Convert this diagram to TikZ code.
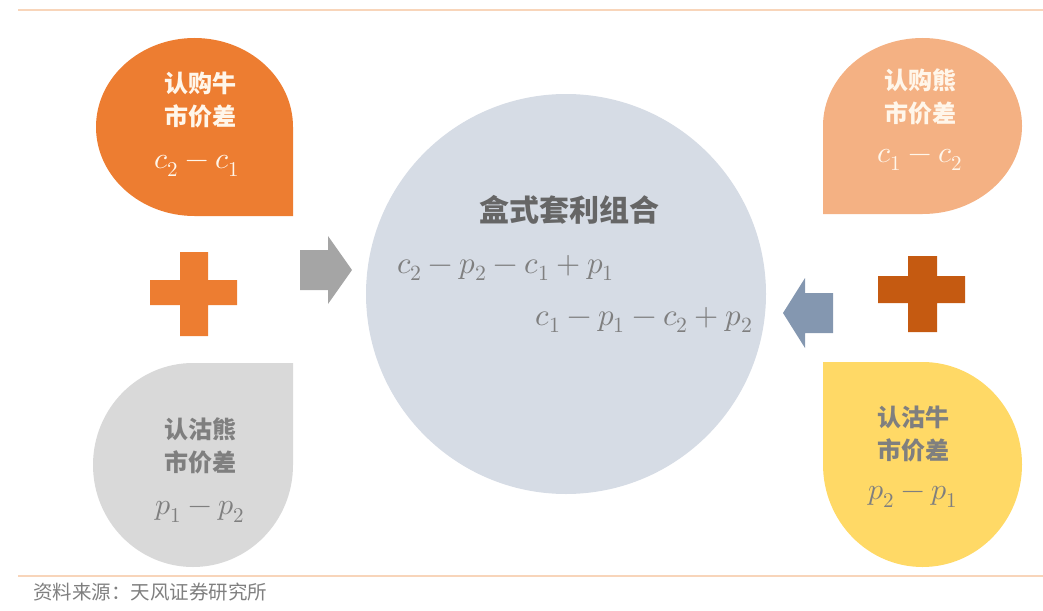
\documentclass[tikz,border=0pt]{standalone}
\usepackage{xcolor}
\usepackage{fontspec}
\usepackage{unicode-math}
\setmathfont{Latin Modern Math}
\usepackage{tikz}

\newfontfamily\cjk{Noto Sans CJK SC}

\definecolor{callbull}{HTML}{ED7D31}
\definecolor{callbear}{HTML}{F4B183}
\definecolor{putbear}{HTML}{D9D9D9}
\definecolor{putbull}{HTML}{FFD966}
\definecolor{boxfill}{HTML}{D6DCE5}
\definecolor{plusdark}{HTML}{C55A11}
\definecolor{arrowgray}{HTML}{A5A5A5}
\definecolor{arrowblue}{HTML}{8497B0}
\definecolor{rulecolor}{HTML}{F8D5BA}
\definecolor{textgray}{HTML}{7F7F7F}
\definecolor{titlegray}{HTML}{666666}
\definecolor{lighttext}{HTML}{FFF6EA}

% fill, cx, cy, rx, ry, angle where the sharp corner starts
\newcommand{\teardrop}[6]{%
  \fill[#1] (#2,#3) ++(#6:#4 and #5) -- ++(#6+90:#4 and #5) -- ++(#6+180:#4 and #5)
    arc[start angle=#6+90, delta angle=270, x radius=#4, y radius=#5] -- cycle;}

\begin{document}
\begin{tikzpicture}[x=1pt, y=-1pt,
    tagtext/.style={align=center, font=\cjk\bfseries\fontsize{24}{33}\selectfont},
    tagexpr/.style={font=\fontsize{30}{34}\selectfont},
    boxexpr/.style={font=\fontsize{31}{34}\selectfont, text=textgray}]
    \useasboundingbox (0,0) rectangle (1043,610);

    \draw[rulecolor, line width=2.5] (18,10) -- (1043,10);
    \draw[rulecolor, line width=2.5] (18,576) -- (1043,576);

    \teardrop{callbull}{194.5}{127}{98.5}{89}{0}
    \teardrop{callbear}{922.5}{126}{99.5}{88}{90}
    \teardrop{putbear}{193}{465}{100}{102}{270}
    \teardrop{putbull}{922.5}{464.5}{99.5}{102.5}{180}
    \fill[boxfill] (566,294) circle[radius=200];

    % plus signs
    \fill[callbull] (150,280) rectangle (237,305) (180,252) rectangle (208,336);
    \fill[plusdark] (878,276) rectangle (965,303) (908,256) rectangle (937,332);

    % block arrows
    \fill[arrowgray] (300,250) -- (328,250) -- (328,236) -- (352,270)
        -- (328,304) -- (328,290) -- (300,290) -- cycle;
    \fill[arrowblue] (833,293) -- (805,293) -- (805,278) -- (783,313)
        -- (805,348) -- (805,333) -- (833,333) -- cycle;

    \node[tagtext, text=lighttext] at (200, 100) (bullcall) {认购牛\\市价差};
    \node[tagexpr, text=lighttext] at (197, 166) (bullcallexpr) {$c_2-c_1$};
    \node[tagtext, text=lighttext] at (920, 97) (bearcall) {认购熊\\市价差};
    \node[tagexpr, text=lighttext] at (920, 160) (bearcallexpr) {$c_1-c_2$};
    \node[tagtext, text=textgray] at (200, 446) (bearput) {认沽熊\\市价差};
    \node[tagexpr, text=textgray] at (200, 512) (bearputexpr) {$p_1-p_2$};
    \node[tagtext, text=textgray] at (913, 434) (bullput) {认沽牛\\市价差};
    \node[tagexpr, text=textgray] at (913, 497) (bullputexpr) {$p_2-p_1$};

    \node[font=\cjk\bfseries\fontsize{30}{34}\selectfont, text=titlegray] at (569, 210) (boxtitle) {盒式套利组合};
    \node[boxexpr, anchor=west, inner sep=0] at (397, 268) (boxleft) {$c_2-p_2-c_1+p_1$};
    \node[boxexpr, anchor=east, inner sep=0] at (753, 320) (boxright) {$c_1-p_1-c_2+p_2$};

    \node[font=\cjk\fontsize{19.5}{22}\selectfont, text=textgray, anchor=west, inner sep=0] at (33, 592) (source) {资料来源：天风证券研究所};
\end{tikzpicture}
\end{document}
